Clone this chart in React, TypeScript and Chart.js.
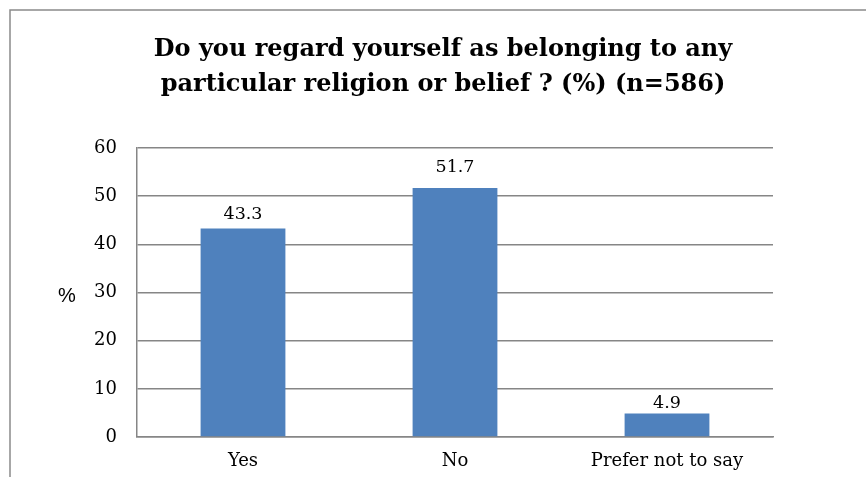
import React, { useEffect, useRef } from "react";
import { Chart, registerables } from "chart.js";

Chart.register(...registerables);

const categories = ["Yes", "No", "Prefer not to say"];
const values = [43.3, 51.7, 4.9];
const yTicks = [0, 10, 20, 30, 40, 50, 60];
const titleLines = [
  "Do you regard yourself as belonging to any",
  "particular religion or belief ? (%) (n=586)",
];
const axisUnit = "%";

const LABEL_GAP = [9, 16, 5];
const GRID = "#868686";
const BAR = "#4F81BD";
const SERIF = "'DejaVu Serif', serif";

const framePlugin = {
  id: "frame",
  beforeDraw(chart: any) {
    const ctx = chart.ctx;
    ctx.save();
    ctx.fillStyle = "#ffffff";
    ctx.fillRect(0, 0, chart.width, chart.height);
    ctx.strokeStyle = "#8a8a8a";
    ctx.lineWidth = 1.5;
    ctx.strokeRect(10, 10, 2000, 2000);
    ctx.restore();
  },
};

const labelsPlugin = {
  id: "valueLabels",
  afterDatasetsDraw(chart: any) {
    const ctx = chart.ctx;
    const meta = chart.getDatasetMeta(0);
    ctx.save();
    ctx.font = `17.5px ${SERIF}`;
    ctx.fillStyle = "#000000";
    ctx.textAlign = "center";
    ctx.textBaseline = "alphabetic";
    meta.data.forEach((bar: any, i: number) => {
      ctx.fillText(values[i].toFixed(1), bar.x, bar.y - LABEL_GAP[i]);
    });
    const ca = chart.chartArea;
    ctx.font = "20px 'Liberation Sans', sans-serif";
    ctx.textBaseline = "middle";
    ctx.fillText(axisUnit, ca.left - 70, (ca.top + ca.bottom) / 2 + 4);
    ctx.restore();
  },
};

export default function App() {
  const ref = useRef<HTMLCanvasElement | null>(null);
  useEffect(() => {
    if (!ref.current) return;
    const chart = new Chart(ref.current, {
      type: "bar",
      data: {
        labels: categories,
        datasets: [
          {
            data: values,
            backgroundColor: BAR,
            borderWidth: 0,
            barPercentage: 0.4,
            categoryPercentage: 1,
          },
        ],
      },
      options: {
        animation: false,
        responsive: false,
        layout: { padding: { left: 20, right: 0, top: 0, bottom: 0 } },
        plugins: {
          legend: { display: false },
          tooltip: { enabled: false },
          title: {
            display: true,
            text: titleLines,
            color: "#000000",
            font: { family: SERIF, size: 24, weight: "bold", lineHeight: "34.5px" },
            padding: { top: 33, bottom: 46 },
          },
        },
        scales: {
          x: {
            grid: { display: false, drawTicks: false },
            border: { display: true, color: GRID, width: 1.5 },
            ticks: {
              color: "#000000",
              font: { family: SERIF, size: 18 },
              padding: 14,
              maxRotation: 0,
            },
            afterFit(s: any) {
              s.height = 40;
            },
          },
          y: {
            min: 0,
            max: 60,
            afterBuildTicks(s: any) {
              s.ticks = yTicks.map((v) => ({ value: v }));
            },
            grid: { color: GRID, lineWidth: 1.5, drawTicks: false },
            border: { display: true, color: GRID, width: 1.5 },
            ticks: {
              color: "#000000",
              font: { family: SERIF, size: 18 },
              padding: 20,
            },
            afterFit(s: any) {
              s.width = 117;
            },
          },
          yRight: {
            position: "right",
            min: 0,
            max: 60,
            grid: { display: false, drawTicks: false },
            border: { display: false },
            ticks: { display: false },
            afterFit(s: any) {
              s.width = 93;
            },
          },
        },
      },
      plugins: [framePlugin, labelsPlugin],
    });
    return () => chart.destroy();
  }, []);
  return (
    <div style={{ position: "fixed", left: 0, top: 0, width: 866, height: 477 }}>
      <canvas ref={ref} width={866} height={477} style={{ width: 866, height: 477 }} />
    </div>
  );
}
